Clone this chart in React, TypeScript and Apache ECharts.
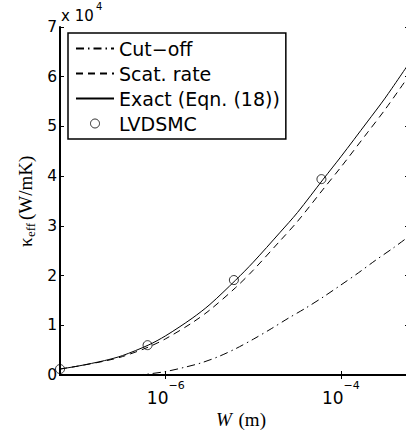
import { useEffect, useRef } from 'react';
import * as echarts from 'echarts';

// Width W (m) and effective thermal conductivity (W/mK)
const cutoffW = [4.5e-7, 6.3e-7, 1e-6, 1.6e-6, 2.5e-6, 4e-6, 6.3e-6, 1e-5, 1.6e-5, 2.5e-5, 4e-5, 6.3e-5, 1e-4, 1.6e-4, 2.5e-4, 4e-4, 6e-4];
const cutoffK = [0, 200, 700, 1500, 2400, 3700, 5300, 7200, 9300, 11400, 13500, 15700, 18100, 20600, 23100, 25600, 27900];

const curveW = [6.2e-8, 1e-7, 2e-7, 3.2e-7, 6.3e-7, 1e-6, 2e-6, 3.2e-6, 6.3e-6, 1e-5, 2e-5, 3.2e-5, 6.3e-5, 1e-4, 2e-4, 3.2e-4, 6e-4];
const scatK = [1200, 1800, 2800, 3700, 5600, 7300, 10500, 13100, 17600, 21100, 26900, 30900, 37400, 41800, 48700, 53400, 60200];
const exactK = [1200, 1800, 2900, 3900, 6000, 7900, 11400, 14200, 19100, 22700, 28600, 32700, 39400, 43900, 50900, 55700, 62700];

const lvdsmcW = [6.2e-8, 6.2e-7, 6e-6, 6e-5];
const lvdsmcK = [1200, 6000, 19100, 39400];

const X_MIN = 6.2e-8;
const X_MAX = 6e-4;
const X_TICKS = [1e-6, 1e-4];
const Y_MIN = 0;
const Y_MAX = 70000;
const Y_STEP = 10000;
const Y_MULT = 1e4;

const SANS = '"DejaVu Sans", sans-serif';
const SERIF = '"Liberation Serif", "DejaVu Serif", serif';

const zip = (xs: number[], ys: number[]) => xs.map((x, i) => [x, ys[i]]);
const isMajor = (v: number) => X_TICKS.some((t) => Math.abs(Math.log10(v) - Math.log10(t)) < 1e-6);

export default function App() {
  const ref = useRef<HTMLDivElement>(null);
  useEffect(() => {
    document.body.style.margin = '0';
    document.body.style.overflow = 'hidden';
    const chart = echarts.init(ref.current!, null, { renderer: 'svg' });
    const lineBase = { type: 'line', symbol: 'none', showSymbol: false, smooth: 0.3, z: 3 };
    const xCommon = {
      type: 'log',
      logBase: 10,
      min: X_MIN,
      max: X_MAX,
      axisLine: { show: true, lineStyle: { color: '#000', width: 2 } },
      axisTick: { show: true, inside: true, length: 4, customValues: X_TICKS, lineStyle: { color: '#000', width: 1 } },
      splitLine: { show: false },
      minorTick: { show: false },
    };
    const yCommon = {
      type: 'value',
      min: Y_MIN,
      max: Y_MAX,
      interval: Y_STEP,
      axisLine: { show: true, lineStyle: { color: '#000', width: 2 } },
      axisTick: { show: true, inside: true, length: 4, lineStyle: { color: '#000', width: 1 } },
      splitLine: { show: false },
    };
    const hiddenDot = { color: 'rgba(0,0,0,0)', borderWidth: 0 };
    chart.setOption({
      animation: false,
      backgroundColor: '#fff',
      grid: { left: 60, top: 27, width: 349, height: 348, containLabel: false },
      xAxis: [
        {
          ...xCommon,
          position: 'bottom',
          axisLabel: {
            show: true,
            margin: 5,
            customValues: X_TICKS,
            color: '#000',
            formatter: (v: number) => {
              if (!isMajor(v)) return '';
              const e = Math.round(Math.log10(v));
              return '{b|10}{s|' + (e < 0 ? '\u2212' + Math.abs(e) : String(e)) + '}';
            },
            rich: {
              b: { fontSize: 17, fontFamily: SANS, color: '#000', lineHeight: 26, verticalAlign: 'bottom' },
              s: { fontSize: 11, fontFamily: SANS, color: '#000', lineHeight: 12, verticalAlign: 'top' },
            },
          },
        },
        { ...xCommon, position: 'top', axisLabel: { show: false } },
      ],
      yAxis: [
        {
          ...yCommon,
          position: 'left',
          axisLabel: {
            show: true,
            margin: 3,
            color: '#000',
            fontSize: 15.5,
            fontFamily: SANS,
            formatter: (v: number) => String(Math.round(v / Y_MULT)),
          },
        },
        { ...yCommon, position: 'right', axisLabel: { show: false } },
      ],
      legend: {
        show: true,
        orient: 'vertical',
        left: 68,
        top: 33,
        padding: [3, 6, 3, 7],
        itemGap: 0,
        itemWidth: 38,
        itemHeight: 9,
        backgroundColor: '#fff',
        borderColor: '#000',
        borderWidth: 1.5,
        borderRadius: 0,
        textStyle: { fontSize: 19, fontFamily: SANS, color: '#000', lineHeight: 25 },
        data: [
          { name: 'Cut\u2212off', itemStyle: hiddenDot },
          { name: 'Scat. rate', itemStyle: hiddenDot },
          { name: 'Exact (Eqn. (18))', itemStyle: hiddenDot },
          { name: 'LVDSMC', icon: 'circle', itemStyle: { color: '#fff', borderColor: '#000', borderWidth: 1 } },
        ],
      },
      series: [
        {
          ...lineBase,
          name: 'Cut\u2212off',
          data: zip(cutoffW, cutoffK),
          lineStyle: { color: '#000', width: 1, type: [8, 4, 1.5, 4] },
          itemStyle: { color: '#000' },
        },
        {
          ...lineBase,
          name: 'Scat. rate',
          data: zip(curveW, scatK),
          lineStyle: { color: '#000', width: 1, type: [7, 5] },
          itemStyle: { color: '#000' },
        },
        {
          ...lineBase,
          name: 'Exact (Eqn. (18))',
          data: zip(curveW, exactK),
          lineStyle: { color: '#000', width: 1, type: 'solid' },
          itemStyle: { color: '#000' },
        },
        {
          type: 'scatter',
          name: 'LVDSMC',
          data: zip(lvdsmcW, lvdsmcK),
          symbol: 'circle',
          symbolSize: 9,
          clip: false,
          z: 4,
          itemStyle: { color: 'rgba(0,0,0,0)', borderColor: '#000', borderWidth: 1 },
        },
      ],
      graphic: [
        {
          type: 'text',
          x: 61,
          y: 15.5,
          style: { text: 'x 10', fontSize: 15, fontFamily: SANS, fill: '#000', align: 'left', verticalAlign: 'middle' },
        },
        {
          type: 'text',
          x: 96,
          y: 6,
          style: { text: '4', fontSize: 10, fontFamily: SANS, fill: '#000', align: 'left', verticalAlign: 'middle' },
        },
        {
          type: 'group',
          x: 25,
          y: 201,
          rotation: Math.PI / 2,
          children: [
            {
              type: 'text',
              x: -46,
              y: 0,
              style: { text: '\u03ba', font: '19px "Liberation Serif"', fill: '#000', align: 'left', verticalAlign: 'middle' },
            },
            {
              type: 'text',
              x: -36,
              y: 5,
              style: { text: 'eff', font: '13px "Liberation Serif"', fill: '#000', align: 'left', verticalAlign: 'middle' },
            },
            {
              type: 'text',
              x: -19,
              y: 0,
              style: { text: '(W/mK)', font: '19px "Liberation Serif"', fill: '#000', align: 'left', verticalAlign: 'middle' },
            },
          ],
        },
        {
          type: 'text',
          x: 241,
          y: 419,
          style: {
            text: '{w|W}  {n|(m)}',
            align: 'center',
            verticalAlign: 'middle',
            rich: {
              w: { fontSize: 19, fontFamily: SERIF, fontStyle: 'italic', fill: '#000' },
              n: { fontSize: 19, fontFamily: SERIF, fill: '#000' },
            },
          },
        },
      ],
    });
    return () => chart.dispose();
  }, []);
  return <div ref={ref} style={{ position: 'fixed', left: 0, top: 0, width: 420, height: 432, background: '#fff' }} />;
}
